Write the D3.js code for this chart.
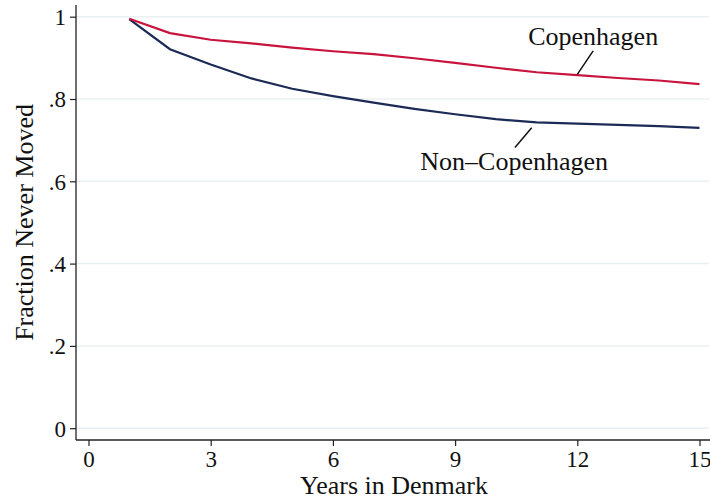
<!DOCTYPE html>
<html>
<head>
<meta charset="utf-8">
<script src="https://cdn.jsdelivr.net/npm/d3@7"></script>
<style>
  body { margin: 0; background: #fff; }
  svg { display: block; font-family: "Liberation Serif", "Times New Roman", serif; }
</style>
</head>
<body>
<div id="chart"></div>
<script>
// data
var years = [1, 2, 3, 4, 5, 6, 7, 8, 9, 10, 11, 12, 13, 14, 15];
var copenhagen = [0.995, 0.960, 0.944, 0.935, 0.925, 0.916, 0.909, 0.899, 0.888, 0.876, 0.865, 0.858, 0.851, 0.845, 0.836];
var nonCopenhagen = [0.994, 0.921, 0.884, 0.850, 0.825, 0.807, 0.791, 0.776, 0.763, 0.751, 0.743, 0.740, 0.737, 0.734, 0.730];
var xTicks = [0, 3, 6, 9, 12, 15];
var yTicks = [0, 0.2, 0.4, 0.6, 0.8, 1];
var yTickLabels = ["0", ".2", ".4", ".6", ".8", "1"];

var svgWidth = 710;
var svgHeight = 499;

var svg = d3.select("#chart")
  .append("svg")
  .attr("width", svgWidth)
  .attr("height", svgHeight);

var xScale = d3.scaleLinear().domain([0, 15]).range([88.5, 699.5]);
var yScale = d3.scaleLinear().domain([0, 1]).range([428.2, 16.7]);

var axisX = 76;   // y axis line position
var axisY = 440;  // x axis line position

// gridlines
svg.append("g")
  .selectAll("line")
  .data(yTicks)
  .enter()
  .append("line")
  .attr("x1", axisX)
  .attr("x2", 709)
  .attr("y1", d => yScale(d))
  .attr("y2", d => yScale(d))
  .attr("stroke", "#eaf0f1")
  .attr("stroke-width", 1.5);

// y axis
var leftAxis = d3.axisLeft(yScale)
  .tickValues(yTicks)
  .tickFormat((d, i) => yTickLabels[i])
  .tickSize(6)
  .tickPadding(4);

var yAxis = svg.append("g")
  .attr("transform", `translate(${axisX}, 0)`)
  .call(leftAxis);
yAxis.select(".domain").remove();
yAxis.append("line")
  .attr("x1", 0).attr("x2", 0)
  .attr("y1", 5).attr("y2", axisY)
  .attr("stroke", "#222").attr("stroke-width", 1.3);

// x axis
var bottomAxis = d3.axisBottom(xScale)
  .tickValues(xTicks)
  .tickSize(6)
  .tickPadding(4);

var xAxis = svg.append("g")
  .attr("transform", `translate(0, ${axisY})`)
  .call(bottomAxis);
xAxis.select(".domain").remove();
xAxis.append("line")
  .attr("x1", axisX).attr("x2", 710)
  .attr("y1", 0).attr("y2", 0)
  .attr("stroke", "#222").attr("stroke-width", 1.3);

svg.selectAll(".tick line").attr("stroke", "#222").attr("stroke-width", 1.2);
svg.selectAll(".tick text")
  .attr("font-family", "Liberation Serif, Times New Roman, serif")
  .attr("font-size", "23px")
  .attr("fill", "#111");
yAxis.selectAll(".tick text").attr("dy", "0.34em");
xAxis.selectAll(".tick text").attr("dy", "0.75em");

// lines
var line = d3.line()
  .x((d, i) => xScale(years[i]))
  .y(d => yScale(d));

svg.append("path")
  .datum(nonCopenhagen)
  .attr("fill", "none")
  .attr("stroke", "#1c2a56")
  .attr("stroke-width", 2.2)
  .attr("d", line);

svg.append("path")
  .datum(copenhagen)
  .attr("fill", "none")
  .attr("stroke", "#c8143c")
  .attr("stroke-width", 2.2)
  .attr("d", line);

// labels with connectors
var labels = [
  { text: "Copenhagen", x: 12.0, y: 0.860, x2: 12.39, y2: 0.917, tx: 12.39, ty: 0.931 },
  { text: "Non\u2013Copenhagen", x: 10.88, y: 0.730, x2: 10.47, y2: 0.682, tx: 10.45, ty: 0.627 }
];

svg.selectAll(".connector")
  .data(labels)
  .enter()
  .append("line")
  .classed("connector", true)
  .attr("x1", d => xScale(d.x))
  .attr("y1", d => yScale(d.y))
  .attr("x2", d => xScale(d.x2))
  .attr("y2", d => yScale(d.y2))
  .attr("stroke", "#111")
  .attr("stroke-width", 1.5);

svg.selectAll(".lineLabel")
  .data(labels)
  .enter()
  .append("text")
  .classed("lineLabel", true)
  .attr("x", d => xScale(d.tx))
  .attr("y", d => yScale(d.ty))
  .attr("text-anchor", "middle")
  .attr("font-size", "26px")
  .attr("fill", "#111")
  .text(d => d.text);

// axis titles
svg.append("text")
  .attr("x", xScale(7.5))
  .attr("y", 494)
  .attr("text-anchor", "middle")
  .attr("font-size", "26px")
  .attr("fill", "#111")
  .text("Years in Denmark");

svg.append("text")
  .attr("transform", `translate(33, ${yScale(0.5)}) rotate(-90)`)
  .attr("text-anchor", "middle")
  .attr("font-size", "26px")
  .attr("fill", "#111")
  .text("Fraction Never Moved");
</script>
</body>
</html>
